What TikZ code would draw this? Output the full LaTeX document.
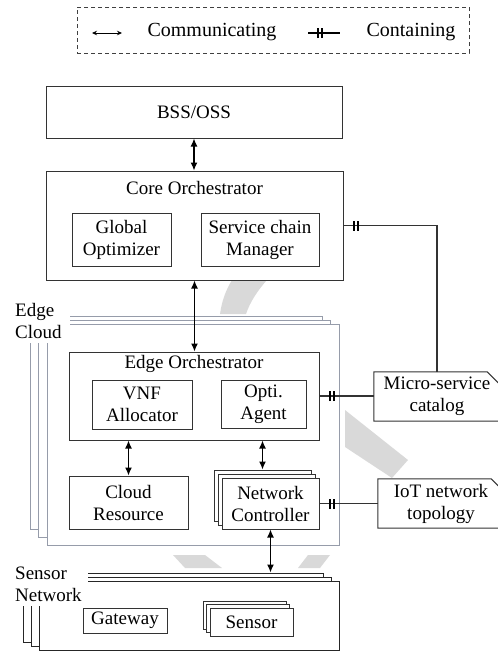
\documentclass[tikz,border=0pt]{standalone}
\usepackage{fontspec}
\setmainfont{Liberation Serif}
\usetikzlibrary{arrows.meta, decorations.markings}
\definecolor{edgegray}{RGB}{150,156,170}
\definecolor{wmgray}{RGB}{217,217,217}

\begin{document}
\begin{tikzpicture}[
  x=1pt, y=-1pt,
  every node/.style={font=\fontsize{19}{22}\selectfont},
  box/.style={draw=black!80, line width=1pt, fill=white, align=center, inner sep=0pt},
  layer/.style={draw=edgegray, line width=0.9pt, fill=white, inner sep=0pt},
  snlayer/.style={draw=black!85, line width=1pt, fill=white, inner sep=0pt},
  tag/.style={fill=white, align=left, anchor=north west, inner sep=3pt},
  doc/.style={align=center, inner sep=0pt, minimum width=126pt, minimum height=49pt},
  docline/.style={draw=black!80, line width=1pt},
  comm/.style={{Latex[length=8pt,width=7pt]}-{Latex[length=8pt,width=7pt]}, line width=1.2pt},
  contain/.style={line width=1.6pt, draw=black!80, postaction={decorate},
    decoration={markings,
      mark=at position 10pt with {\draw[line width=2pt, black] (0pt,-5pt) -- (0pt,5pt);},
      mark=at position 14pt with {\draw[line width=2pt, black] (0pt,-5pt) -- (0pt,5pt);}}}
]
\useasboundingbox (0,0) rectangle (498,654);

% faint background mark
\fill[wmgray] (220,314) .. controls (222,300) and (226,290) .. (232,280) -- (267,280)
  .. controls (258,290) and (250,302) .. (246,314) -- cycle;
\fill[wmgray] (345,410) -- (408,460) -- (392,478) -- (345,447) -- cycle;
\fill[wmgray] (173,555) -- (205,555) -- (222,568) -- (185,568) -- cycle;
\fill[wmgray] (308,555) -- (330,555) -- (320,568) -- (298,568) -- cycle;

% legend
\node[draw=black!75, line width=0.9pt, dash pattern=on 4pt off 3pt, minimum width=392pt, minimum height=46pt] (legend) at (273,30) {};
\coordinate (commA) at (92,33);
\coordinate (commB) at (122,33);
\draw[{Stealth[length=5pt,width=4.5pt]}-{Stealth[length=5pt,width=4.5pt]}, line width=0.8pt] (commA) -- (commB);
\node[font=\fontsize{20}{22}\selectfont] (commtxt) at (212,32) {Communicating};
\coordinate (contA) at (308,33);
\coordinate (contB) at (340,33);
\draw[contain, line width=2.6pt, draw=black] (contA) -- (contB);
\node[font=\fontsize{20}{22}\selectfont] (conttxt) at (411,32) {Containing};

% cloud side
\node[box, minimum width=296pt, minimum height=52pt] (bss) at (194,112) {BSS/OSS};
\node[box, minimum width=297pt, minimum height=109pt] (core) at (194.5,225.5) {};
\node (coretitle) at (194.5,188) {Core Orchestrator};
\node[box, minimum width=99pt, minimum height=53pt] (optimizer) at (121.5,239.5) {Global\\Optimizer};
\node[box, minimum width=118pt, minimum height=53pt] (chain) at (260,239.5) {Service chain\\Manager};

% edge cloud, three stacked layers
\node[layer, minimum width=292pt, minimum height=213pt] (ecback) at (176,422.5) {};
\node[layer, minimum width=292pt, minimum height=217pt] (ecmid) at (184,428.5) {};
\node[layer, minimum width=292pt, minimum height=221pt] (ecfront) at (193,434.5) {};
\node[tag, text width=52pt, minimum height=45pt] (edgelbl) at (12,298) {Edge\\Cloud};

\node[box, minimum width=250pt, minimum height=88pt] (edgeorch) at (194,396) {};
\node (edgetitle) at (194,364) {Edge Orchestrator};
\node[box, minimum width=100pt, minimum height=49pt] (vnf) at (142,404.5) {VNF\\Allocator};
\node[box, minimum width=85pt, minimum height=48pt] (agent) at (263.5,404) {Opti.\\Agent};
\node[box, minimum width=119pt, minimum height=53pt] (cloudres) at (128.5,502.5) {Cloud\\Resource};
\node[box, minimum width=97pt, minimum height=51pt] (ctrlback) at (262.5,495.5) {};
\node[box, minimum width=97pt, minimum height=51pt] (ctrlmid) at (266.5,499.5) {};
\node[box, minimum width=97pt, minimum height=51pt] (ctrl) at (270.5,503.5) {Network\\Controller};

% sensor network
\node[snlayer, minimum width=300pt, minimum height=69pt] (snback) at (173,607.5) {};
\node[snlayer, minimum width=300pt, minimum height=69pt] (snmid) at (181,611.5) {};
\node[snlayer, minimum width=300pt, minimum height=69pt] (snfront) at (189,615.5) {};
\node[tag, text width=70pt, minimum height=44pt] (snlbl) at (12,562) {Sensor\\Network};
\node[box, minimum width=84pt, minimum height=25pt] (gateway) at (125,620.5) {Gateway};
\node[box, minimum width=83pt, minimum height=28pt] (sensback) at (244.5,615) {};
\node[box, minimum width=83pt, minimum height=28pt] (sensmid) at (248,618.5) {};
\node[box, minimum width=83pt, minimum height=28pt] (sensor) at (251.5,622) {Sensor};

% repositories
\node[doc] (catalog) at (437,396.5) {Micro-service\\catalog};
\draw[docline] (catalog.south east) -- (catalog.south west) -- (catalog.north west)
  -- ([xshift=-13pt]catalog.north east) -- ([yshift=-13pt]catalog.north east);
\node[doc] (topology) at (441,503.5) {IoT network\\topology};
\draw[docline] (topology.south east) -- (topology.south west) -- (topology.north west)
  -- ([xshift=-13pt]topology.north east) -- ([yshift=-13pt]topology.north east);

% communicating
\draw[comm] (bss.south) -- (bss.south |- core.north);
\draw[comm] (core.south) -- (core.south |- edgeorch.north);
\draw[comm] (cloudres.north) -- (cloudres.north |- edgeorch.south);
\draw[comm] (ctrlback.north) -- (ctrlback.north |- edgeorch.south);
\draw[comm] (ctrl.south) -- (ctrl.south |- snback.north);

% containing
\draw[contain] (core.east) -| (catalog.north);
\draw[contain] (edgeorch.east) -- (edgeorch.east -| catalog.west);
\draw[contain] (ctrl.east) -- (ctrl.east -| topology.west);
\end{tikzpicture}
\end{document}
